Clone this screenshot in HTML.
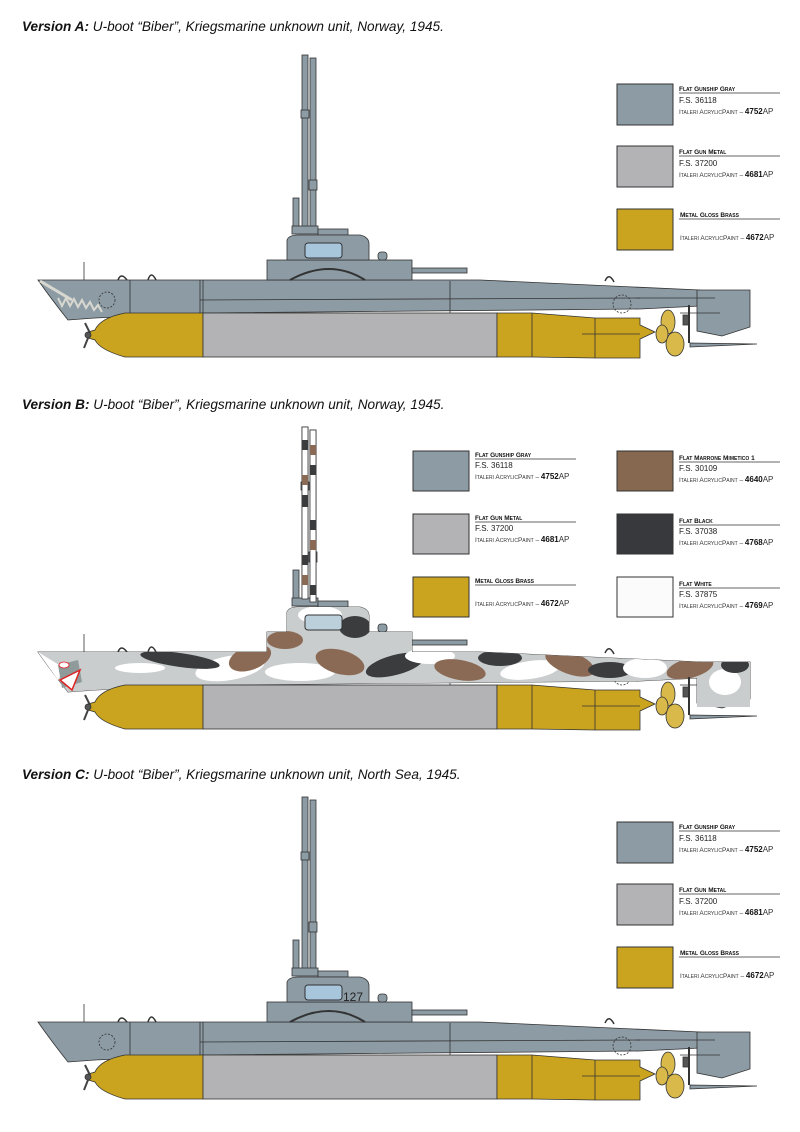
<!DOCTYPE html>
<html><head><meta charset="utf-8"><style>
html,body{margin:0;padding:0;background:#fff}
svg{display:block}
.t{font-family:"Liberation Sans",sans-serif;font-style:italic;font-size:13.6px;fill:#111}
.lt{font-family:"Liberation Sans",sans-serif;font-size:6.5px;font-weight:bold;fill:#111;font-variant:small-caps}
.fs{font-family:"Liberation Sans",sans-serif;font-size:8px;fill:#222}
.it{font-family:"Liberation Sans",sans-serif;font-size:6.5px;fill:#333;font-variant:small-caps}
.it tspan{font-size:8px}
.nm{font-weight:bold;fill:#111}
</style></head><body>
<svg width="800" height="1132" viewBox="0 0 800 1132" xmlns="http://www.w3.org/2000/svg">
<defs>
  <path id="hull" d="M38,280 L480,280 L700,290 L700,306 L640,309 L205,313 L95,318 L68,320 Q52,300 38,280 Z"/>
  <clipPath id="hc"><use href="#hull" transform="translate(0,372)"/><rect x="267" y="632" width="145" height="20"/><path d="M287,632 L287,612 Q289,607 298,607 L360,607 Q369,609 369,616 L369,632 Z"/><rect x="697" y="662" width="53" height="45"/></clipPath>
  <g id="lower" stroke="#333" stroke-width="0.8">
    <path d="M203,313 L203,357 L125,357 Q100,350 95,340 L88,338 L88,332 L95,330 Q100,318 125,313 Z" fill="#cba41f"/>
    <rect x="203" y="313" width="294" height="44" fill="#b3b2b4"/>
    <path d="M497,313 L532,313 L595,318 L640,318 L640,325 L655,332 L640,339 L640,358 L595,358 L532,357 L497,357 Z" fill="#cba41f"/>
    <line x1="532" y1="313" x2="532" y2="357"/>
    <line x1="595" y1="318" x2="595" y2="358"/>
    <path d="M582,334 L640,334" fill="none"/>
    <ellipse cx="668" cy="322" rx="7" ry="12" fill="#d9b94a"/>
    <ellipse cx="675" cy="344" rx="9" ry="12" fill="#d9b94a"/>
    <ellipse cx="662" cy="334" rx="6" ry="9" fill="#d9b94a"/>
    <rect x="683" y="315" width="6" height="10" fill="#555"/>
    <path d="M85,323 L90,333 L84,348" fill="none" stroke="#444" stroke-width="2"/>
    <circle cx="88" cy="335" r="3" fill="#555"/>
    <path d="M690,343 L757,344 L690,347 Z" fill="#8c9ba4"/>
    <path d="M689,305 L689,343" fill="none" stroke-width="2"/>
  </g>
  <g id="upper" stroke="#333" stroke-width="0.8">
    <rect x="302" y="55" width="6" height="172" fill="#8c9ba4"/>
    <rect x="310" y="58" width="6" height="172" fill="#8c9ba4"/>
    <rect x="301" y="110" width="8" height="8" fill="#8c9ba4"/>
    <rect x="309" y="180" width="8" height="10" fill="#8c9ba4"/>
    <rect x="293" y="198" width="6" height="30" fill="#8c9ba4"/>
    <rect x="292" y="226" width="26" height="8" fill="#8c9ba4"/>
    <rect x="318" y="229" width="30" height="6" fill="#8c9ba4"/>
    <rect x="267" y="260" width="145" height="20" fill="#8c9ba4"/>
    <path d="M287,260 L287,240 Q289,235 298,235 L360,235 Q369,237 369,244 L369,260 Z" fill="#8c9ba4"/>
    <rect x="378" y="252" width="9" height="8" rx="3" fill="#8c9ba4"/>
    <rect x="412" y="268" width="55" height="5" fill="#8c9ba4"/>
    <path d="M290,280 Q330,258 365,280" fill="none" stroke-width="2"/>
    <path d="M697,290 L750,290 L750,327 L722,336 L697,331 Z" fill="#8c9ba4"/>
    <line x1="200" y1="300" x2="640" y2="298"/>
    <line x1="130" y1="280" x2="130" y2="313"/>
    <line x1="200" y1="280" x2="200" y2="313"/>
    <line x1="203" y1="280" x2="203" y2="313"/>
    <line x1="450" y1="281" x2="450" y2="313"/>
    <circle cx="107" cy="300" r="8" fill="none" stroke-dasharray="2 1.5"/>
    <circle cx="622" cy="304" r="9" fill="none" stroke-dasharray="2 1.5"/>
    <line x1="637" y1="298" x2="715" y2="298"/>
    <line x1="680" y1="313" x2="720" y2="313"/>
    <line x1="84" y1="280" x2="84" y2="262"/>
    <path d="M118,280 Q121,272 127,280" fill="none" stroke-width="1.5"/>
    <path d="M148,280 Q151,270 156,280" fill="none" stroke-width="1.5"/>
    <path d="M605,281 Q609,272 614,282" fill="none" stroke-width="1.5"/>
  </g>
</defs>

<text class="t" x="22" y="31"><tspan font-weight="bold">Version A:</tspan> U-boot “Biber”, Kriegsmarine unknown unit, Norway, 1945.</text>
<text class="t" x="22" y="409"><tspan font-weight="bold">Version B:</tspan> U-boot “Biber”, Kriegsmarine unknown unit, Norway, 1945.</text>
<text class="t" x="22" y="779"><tspan font-weight="bold">Version C:</tspan> U-boot “Biber”, Kriegsmarine unknown unit, North Sea, 1945.</text>

<!-- Sub A -->
<g>
  <use href="#hull" fill="#8c9ba4" stroke="#333" stroke-width="0.8"/>
  <use href="#upper"/>
  <use href="#lower"/>
  <path d="M40,281 L72,300" stroke="#d8d8d0" stroke-width="3"/>
  <polyline points="58,298 62,306 66,298 70,306 74,299 78,307 82,300 86,308 90,302 94,310 98,305 102,312" fill="none" stroke="#d8d8d0" stroke-width="2"/>
  <rect x="305" y="243" width="37" height="15" rx="3" fill="#a7c6dc" stroke="#333"/>
</g>

<!-- Sub B -->
<g transform="translate(0,372)">
  <use href="#hull" fill="#c9cdcd" stroke="#333" stroke-width="0.8"/>
  <use href="#upper"/>
</g>
<g clip-path="url(#hc)">
  <rect x="30" y="600" width="730" height="110" fill="#c9cdcd"/>
  <ellipse cx="230" cy="668" rx="35" ry="12" fill="#fff" transform="rotate(-10 230 668)"/>
  <ellipse cx="180" cy="660" rx="40" ry="7" fill="#3a3c3e" transform="rotate(8 180 660)"/>
  <ellipse cx="250" cy="658" rx="22" ry="12" fill="#8b6a55" transform="rotate(-20 250 658)"/>
  <ellipse cx="300" cy="672" rx="35" ry="9" fill="#fff"/>
  <ellipse cx="340" cy="662" rx="25" ry="12" fill="#8b6a55" transform="rotate(15 340 662)"/>
  <ellipse cx="320" cy="615" rx="22" ry="9" fill="#fff"/>
  <ellipse cx="355" cy="627" rx="16" ry="11" fill="#3a3c3e"/>
  <ellipse cx="285" cy="640" rx="18" ry="9" fill="#8b6a55"/>
  <ellipse cx="395" cy="665" rx="30" ry="10" fill="#3a3c3e" transform="rotate(-15 395 665)"/>
  <ellipse cx="430" cy="656" rx="25" ry="8" fill="#fff"/>
  <ellipse cx="460" cy="670" rx="26" ry="10" fill="#8b6a55" transform="rotate(10 460 670)"/>
  <ellipse cx="500" cy="658" rx="22" ry="8" fill="#3a3c3e"/>
  <ellipse cx="530" cy="670" rx="30" ry="9" fill="#fff" transform="rotate(-8 530 670)"/>
  <ellipse cx="570" cy="663" rx="26" ry="11" fill="#8b6a55" transform="rotate(20 570 663)"/>
  <ellipse cx="610" cy="670" rx="22" ry="8" fill="#3a3c3e"/>
  <ellipse cx="645" cy="668" rx="22" ry="10" fill="#fff"/>
  <ellipse cx="690" cy="668" rx="24" ry="10" fill="#8b6a55" transform="rotate(-15 690 668)"/>
  <ellipse cx="725" cy="682" rx="16" ry="13" fill="#fff"/>
  <ellipse cx="735" cy="665" rx="14" ry="8" fill="#3a3c3e"/>
  <ellipse cx="140" cy="668" rx="25" ry="5" fill="#fff"/>
</g>
<g transform="translate(0,372)">
  <use href="#lower"/>
  <rect x="305" y="243" width="37" height="15" rx="3" fill="#bcd0dc" stroke="#333"/>
</g>
<g stroke="#333" stroke-width="0.8">
  <rect x="302" y="427" width="6" height="172" fill="#fff"/>
  <rect x="310" y="430" width="6" height="172" fill="#fff"/>
  <g fill="#3a3c3e" stroke="none">
    <rect x="302" y="440" width="6" height="10"/><rect x="310" y="465" width="6" height="10"/><rect x="302" y="495" width="6" height="12"/><rect x="310" y="520" width="6" height="10"/><rect x="302" y="555" width="6" height="10"/><rect x="310" y="585" width="6" height="10"/>
  </g>
  <g fill="#8b6a55" stroke="none">
    <rect x="310" y="445" width="6" height="10"/><rect x="302" y="475" width="6" height="10"/><rect x="310" y="540" width="6" height="10"/><rect x="302" y="575" width="6" height="10"/>
  </g>
  <path d="M38,652 L64,668 L58,680 Z" fill="#fff" stroke="none"/>
  <polygon points="58,665 78,660 82,682 62,688" fill="#8f9a9a" stroke="none"/>
  <ellipse cx="64" cy="665" rx="5" ry="3" fill="#fff" stroke="#d22"/>
  <path d="M60,680 L80,670 L72,690 Z" fill="#fff" stroke="#d22" stroke-width="1.5"/>
</g>

<!-- Sub C -->
<g transform="translate(0,742)">
  <use href="#hull" fill="#8c9ba4" stroke="#333" stroke-width="0.8"/>
  <use href="#upper"/>
  <use href="#lower"/>
  <rect x="305" y="243" width="37" height="15" rx="3" fill="#a7c6dc" stroke="#333"/>
</g>
<text x="343" y="1001" font-family="Liberation Sans,sans-serif" font-size="12" fill="#222">127</text>

<!-- Legends -->
<g id="lg" stroke="#333">
  <rect x="617" y="84" width="56" height="41" fill="#8c9ba4"/>
  <rect x="617" y="146" width="56" height="41" fill="#b3b2b4"/>
  <rect x="617" y="209" width="56" height="41" fill="#cba41f"/>
  <line x1="679" y1="93" x2="780" y2="93" stroke-width="0.8"/>
  <line x1="679" y1="156" x2="780" y2="156" stroke-width="0.8"/>
  <line x1="679" y1="219" x2="780" y2="219" stroke-width="0.8"/>
</g>
<g stroke="none">
<text class="lt" x="679" y="91">Flat Gunship Gray</text>
<text class="fs" x="679" y="103">F.S. 36118</text>
<text class="it" x="679" y="114">Italeri AcrylicPaint – <tspan class="nm">4752</tspan><tspan>AP</tspan></text>
<text class="lt" x="679" y="154">Flat Gun Metal</text>
<text class="fs" x="679" y="166">F.S. 37200</text>
<text class="it" x="679" y="177">Italeri AcrylicPaint – <tspan class="nm">4681</tspan><tspan>AP</tspan></text>
<text class="lt" x="680" y="217">Metal Gloss Brass</text>
<text class="it" x="680" y="240">Italeri AcrylicPaint – <tspan class="nm">4672</tspan><tspan>AP</tspan></text>
</g>

<!-- Legend B -->
<g stroke="#333">
  <rect x="413" y="451" width="56" height="40" fill="#8c9ba4"/>
  <rect x="413" y="514" width="56" height="40" fill="#b3b2b4"/>
  <rect x="413" y="577" width="56" height="40" fill="#cba41f"/>
  <rect x="617" y="451" width="56" height="40" fill="#86674f"/>
  <rect x="617" y="514" width="56" height="40" fill="#37393c"/>
  <rect x="617" y="577" width="56" height="40" fill="#fbfbfb"/>
  <g stroke-width="0.8">
  <line x1="475" y1="459" x2="576" y2="459"/><line x1="475" y1="522" x2="576" y2="522"/><line x1="475" y1="585" x2="576" y2="585"/>
  <line x1="679" y1="462" x2="780" y2="462"/><line x1="679" y1="525" x2="780" y2="525"/><line x1="679" y1="588" x2="780" y2="588"/>
  </g>
</g>
<text class="lt" x="475" y="457">Flat Gunship Gray</text>
<text class="fs" x="475" y="468">F.S. 36118</text>
<text class="it" x="475" y="479">Italeri AcrylicPaint – <tspan class="nm">4752</tspan><tspan>AP</tspan></text>
<text class="lt" x="475" y="520">Flat Gun Metal</text>
<text class="fs" x="475" y="531">F.S. 37200</text>
<text class="it" x="475" y="542">Italeri AcrylicPaint – <tspan class="nm">4681</tspan><tspan>AP</tspan></text>
<text class="lt" x="475" y="583">Metal Gloss Brass</text>
<text class="it" x="475" y="606">Italeri AcrylicPaint – <tspan class="nm">4672</tspan><tspan>AP</tspan></text>
<text class="lt" x="679" y="460">Flat Marrone Mimetico 1</text>
<text class="fs" x="679" y="471">F.S. 30109</text>
<text class="it" x="679" y="482">Italeri AcrylicPaint – <tspan class="nm">4640</tspan><tspan>AP</tspan></text>
<text class="lt" x="679" y="523">Flat Black</text>
<text class="fs" x="679" y="534">F.S. 37038</text>
<text class="it" x="679" y="545">Italeri AcrylicPaint – <tspan class="nm">4768</tspan><tspan>AP</tspan></text>
<text class="lt" x="679" y="586">Flat White</text>
<text class="fs" x="679" y="597">F.S. 37875</text>
<text class="it" x="679" y="608">Italeri AcrylicPaint – <tspan class="nm">4769</tspan><tspan>AP</tspan></text>

<!-- Legend C -->
<g transform="translate(0,738)">
  <use href="#lg"/>
  <text class="lt" x="679" y="91">Flat Gunship Gray</text>
  <text class="fs" x="679" y="103">F.S. 36118</text>
  <text class="it" x="679" y="114">Italeri AcrylicPaint – <tspan class="nm">4752</tspan><tspan>AP</tspan></text>
  <text class="lt" x="679" y="154">Flat Gun Metal</text>
  <text class="fs" x="679" y="166">F.S. 37200</text>
  <text class="it" x="679" y="177">Italeri AcrylicPaint – <tspan class="nm">4681</tspan><tspan>AP</tspan></text>
  <text class="lt" x="680" y="217">Metal Gloss Brass</text>
  <text class="it" x="680" y="240">Italeri AcrylicPaint – <tspan class="nm">4672</tspan><tspan>AP</tspan></text>
</g>
</svg>
</body></html>
